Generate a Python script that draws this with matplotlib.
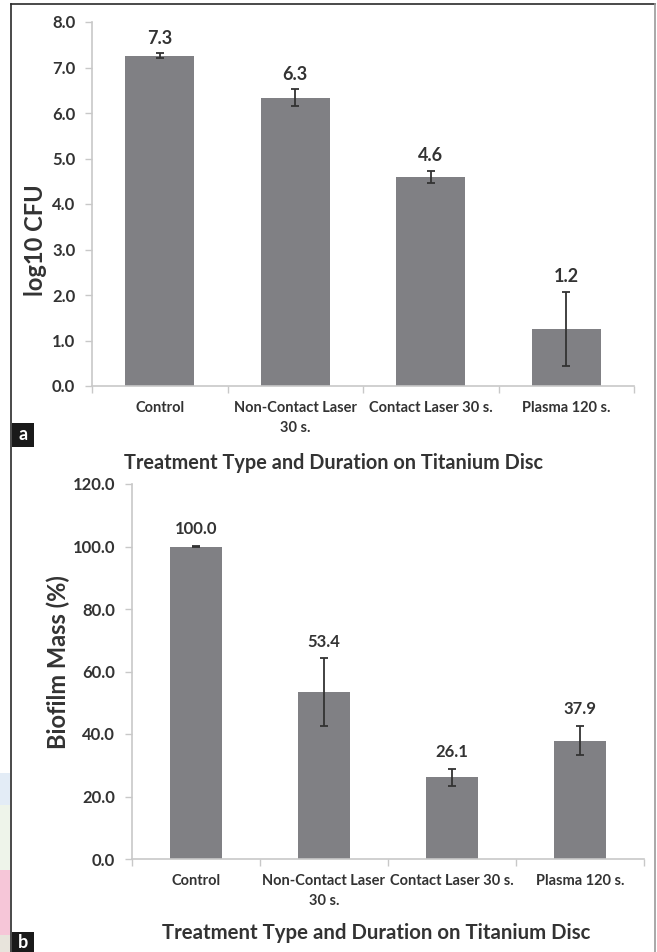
import matplotlib
matplotlib.use("Agg")
import matplotlib.pyplot as plt
from matplotlib.patches import Rectangle
from matplotlib.lines import Line2D

# Data
categories = ["Control", "Non-Contact Laser\n30 s.", "Contact Laser 30 s.", "Plasma 120 s."]

cfu_values = [7.26, 6.34, 4.60, 1.26]
cfu_errors = [0.05, 0.18, 0.13, 0.81]
cfu_labels = ["7.3", "6.3", "4.6", "1.2"]
cfu_ticks = [0, 1, 2, 3, 4, 5, 6, 7, 8]

mass_values = [100.0, 53.4, 26.1, 37.9]
mass_errors = [0.2, 10.8, 2.7, 4.7]
mass_labels = ["100.0", "53.4", "26.1", "37.9"]
mass_ticks = [0, 20, 40, 60, 80, 100, 120]

xlabel = "Treatment Type and Duration on Titanium Disc"

W, H = 657, 952
plt.rcParams['font.family'] = ['Lato', 'DejaVu Sans']
TXT = '#333333'
BAR = '#808084'
AXC = '#c8c8c8'

fig = plt.figure(figsize=(W / 100, H / 100), dpi=100)
fig.patch.set_facecolor('white')


def px_box(l, t, r, b):
    # pixel box -> figure fraction [left, bottom, width, height]
    return [l / W, 1 - b / H, (r - l) / W, (b - t) / H]


def draw_panel(ax, values, errors, labels, ticks, ymax, width, label_off, label_size,
               ylabel, ylab_pos, xlab_pos, xlab_size):
    x = list(range(len(values)))
    ax.bar(x, values, width=width, color=BAR, zorder=2)
    ax.errorbar(x, values, yerr=errors, fmt='none', ecolor='#333333',
                elinewidth=1.3, capsize=3, capthick=1.3, zorder=3)
    for xi, v, e, lab in zip(x, values, errors, labels):
        ax.annotate(lab, (xi, v + e), xytext=(0, label_off), textcoords='offset points',
                    ha='center', va='center', fontsize=label_size, fontweight='bold', color=TXT)
    ax.set_xlim(-0.5, len(values) - 0.5)
    ax.set_ylim(0, ymax)
    ax.set_yticks(ticks)
    ax.set_yticklabels([f"{t:.1f}" for t in ticks])
    ax.set_xticks(x)
    ax.set_xticklabels(categories, linespacing=1.55)
    ax.set_xticks([i - 0.5 for i in range(len(values) + 1)], minor=True)
    ax.tick_params(axis='x', which='major', length=0, pad=11, labelsize=10.5, labelcolor=TXT)
    ax.tick_params(axis='x', which='minor', length=5, color=AXC, width=1)
    ax.tick_params(axis='y', length=5, color=AXC, width=1, pad=7, labelsize=12, labelcolor=TXT)
    for t in ax.get_xticklabels() + ax.get_yticklabels():
        t.set_fontweight('bold')
    for s in ['top', 'right']:
        ax.spines[s].set_visible(False)
    for s in ['left', 'bottom']:
        ax.spines[s].set_color(AXC)
        ax.spines[s].set_linewidth(1.2)
    ax.set_ylabel(ylabel, fontsize=17, fontweight='bold', color=TXT, va='center')
    ax.yaxis.set_label_coords(*ylab_pos)
    ax.set_xlabel(xlabel, fontsize=xlab_size, fontweight='bold', color=TXT, va='center')
    ax.xaxis.set_label_coords(*xlab_pos)


ax1 = fig.add_axes(px_box(92, 22, 634, 386))
draw_panel(ax1, cfu_values, cfu_errors, cfu_labels, cfu_ticks, 8, 0.51, 11, 13,
           "log10 CFU", (-0.105, 0.401), (0.4456, -0.2115), 14.3)

ax2 = fig.add_axes(px_box(132, 484, 644, 859))
draw_panel(ax2, mass_values, mass_errors, mass_labels, mass_ticks, 120, 0.40, 12, 12,
           "Biofilm Mass (%)", (-0.1445, 0.524), (0.4775, -0.197), 14.7)

# page frame lines
def fline(x0, y0, x1, y1, color, lw):
    fig.add_artist(Line2D([x0 / W, x1 / W], [1 - y0 / H, 1 - y1 / H],
                          transform=fig.transFigure, color=color, lw=lw))

fline(11, 4, 655, 4, '#2a2a2a', 1.2)
fline(11, 4, 11, 952, '#2a2a2a', 1.2)
fline(655, 4, 655, 952, '#9a9a9a', 1.2)

# coloured page margin strips on the left
for top, bot, col in [(773, 805, '#e3ecf6'), (805, 870, '#eef4ea'),
                      (870, 935, '#f6c6d8'), (935, 952, '#e8e4dc')]:
    fig.add_artist(Rectangle((0, 1 - bot / H), 10 / W, (bot - top) / H,
                             transform=fig.transFigure, color=col, lw=0))

# panel letters
for letter, top, bot in [("a", 423, 447), ("b", 932, 952)]:
    fig.add_artist(Rectangle((12 / W, 1 - bot / H), 22 / W, (bot - top) / H,
                             transform=fig.transFigure, color='#1a1a1a', lw=0))
    fig.text(23 / W, 1 - (top + bot) / 2 / H, letter, color='white', fontsize=13,
             fontweight='bold', ha='center', va='center')

fig.savefig("out.png", dpi=100)
